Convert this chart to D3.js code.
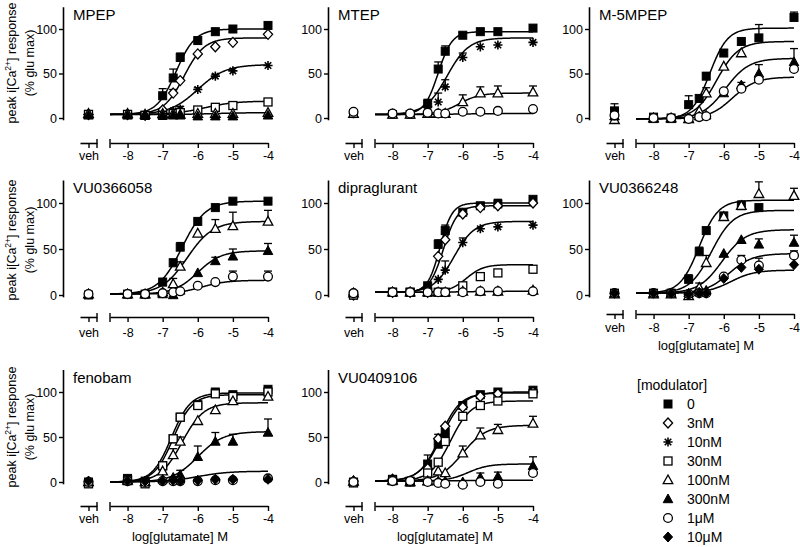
<!DOCTYPE html>
<html><head><meta charset="utf-8">
<script src="https://cdn.jsdelivr.net/npm/d3@7"></script>
<style>
body{margin:0;background:#fff}
svg text{font-family:"Liberation Sans",Arial,Helvetica,sans-serif;fill:#000}
</style>
</head><body>
<svg id="c" width="800" height="547"></svg>
<script>
// ---------- DATA ----------
const conc = [-8, -7.5, -7, -6.7, -6.5, -6, -5.5, -5, -4];   // log[glutamate] M
const modulators = ["0","3nM","10nM","30nM","100nM","300nM","1\u03BCM","10\u03BCM"];
const panelTitles = ["MPEP","MTEP","M-5MPEP","VU0366058","dipraglurant","VU0366248","fenobam","VU0409106"];
const yTicks = [0, 50, 100];
const xTicks = [-8, -7, -6, -5, -4];
// each values array: [veh, then one per conc]; fit = [bottom, top, logEC50, hill]

// MPEP
const mpep_0   = [4, 4, 3, 25, 45, 68, 87, 97, 100, 104];
const mpep_0_e = [4, 0, 0, 8, 10, 5, 3, 0, 0, 0];
const mpep_0_f = [4, 100, -6.62, 1.6];
const mpep_3   = [4, 4, 3, 9, 28, 42, 72, 80, 85, 94];
const mpep_3_e = [0, 0, 0, 0, 4, 3, 0, 0, 0, 0];
const mpep_3_f = [4, 90, -6.39, 1.5];
const mpep_10   = [4, 4, 3, 4, 8, 10, 32, 47, 53, 59];
const mpep_10_e = [0, 0, 0, 0, 0, 3, 2, 2, 0, 0];
const mpep_10_f = [4, 60, -6.0, 1.1];
const mpep_30   = [4, 4, 3, 3, 5, 6, 9, 12, 14, 18];
const mpep_30_f = [4, 19, -5.8, 1.0];
const mpep_100  = [5, 5, 4, 5, 5, 4, 5, 5, 5, 6];
const mpep_100_f = [4, 6, -5.5, 1.0];
const mpep_300  = [3, 3, 3, 3, 3, 3, 2, 2, 2, 3];

// MTEP
const mtep_0   = [5, 4, 4, 16, 55, 75, 93, 97, 97, 101];
const mtep_0_e = [3, 0, 0, 0, 8, 6, 3, 0, 0, 0];
const mtep_0_f = [4, 97, -6.7, 2.2];
const mtep_10   = [5, 4, 4, 13, 18, 35, 68, 80, 82, 85];
const mtep_10_e = [0, 0, 0, 8, 10, 8, 5, 0, 0, 0];
const mtep_10_f = [4, 90, -6.45, 1.4];
const mtep_100   = [5, 4, 4, 5, 5, 5, 18, 28, 28, 29];
const mtep_100_e = [0, 0, 0, 0, 0, 0, 8, 7, 8, 7];
const mtep_100_f = [4, 28, -6.1, 1.5];
const mtep_1u   = [7, 5, 5, 6, 5, 5, 7, 7, 8, 10];
const mtep_1u_f = [4, 5, -6, 1];

// M-5MPEP
const m5_0   = [8, 1, 0, 15, 22, 47, 73, 86, 90, 113];
const m5_0_e = [8, 0, 0, 10, 0, 4, 0, 0, 15, 6];
const m5_0_f = [-1, 101, -6.4, 1.7];
const m5_100   = [-2, 0, 0, -1, 8, 28, 58, 73, null, null];
const m5_100_e = [0, 0, 0, 0, 0, 6, 0, 0, 0, 0];
const m5_100_f = [-1, 86, -6.2, 1.4];
const m5_300   = [2, -1, -1, -1, 2, 3, 28, 37, 50, 63];
const m5_300_e = [0, 0, 0, 0, 0, 0, 5, 3, 10, 15];
const m5_300_f = [-1, 67, -5.95, 1.3];
const m5_1u   = [3, 0, 0, -1, 1, 2, 30, 33, 43, 55];
const m5_1u_f = [-1, 46, -5.75, 1.3];

// VU0366058
const v58_0   = [0, 1, 1, 14, 35, 52, 80, 95, 102, 102];
const v58_0_e = [0, 0, 0, 4, 4, 5, 0, 0, 0, 0];
const v58_0_f = [1, 102, -6.45, 1.3];
const v58_100   = [1, 1, 1, 3, 12, 31, 67, 72, 75, 80];
const v58_100_e = [0, 0, 0, 0, 6, 5, 0, 10, 15, 12];
const v58_100_f = [1, 80, -6.3, 1.2];
const v58_300   = [1, 1, 1, 1, 0, 5, 24, 37, 42, 48];
const v58_300_e = [0, 0, 0, 0, 0, 0, 0, 4, 8, 8];
const v58_300_f = [1, 48, -6.0, 1.3];
const v58_1u   = [1, 1, 1, 2, 3, 4, 10, 14, 20, 20];
const v58_1u_e = [0, 0, 0, 0, 0, 0, 0, 0, 6, 6];
const v58_1u_f = [1, 16, -5.9, 1.2];

// dipraglurant
const dip_0   = [0, 3, 3, 10, 55, 70, 90, 97, 99, 104];
const dip_0_e = [4, 0, 0, 0, 5, 6, 0, 0, 5, 0];
const dip_0_f = [3, 100, -6.65, 2.5];
const dip_3   = [0, 3, 3, 3, 42, 60, 88, 95, 97, 100];
const dip_3_f = [3, 97, -6.55, 2.2];
const dip_10   = [0, 3, 3, 3, 17, 27, 57, 72, 74, 76];
const dip_10_e = [0, 0, 0, 0, 0, 10, 5, 0, 0, 0];
const dip_10_f = [3, 80, -6.25, 1.5];
const dip_30   = [0, 3, 3, 3, 3, 3, 10, 20, 24, 28];
const dip_30_f = [3, 33, -5.9, 1.8];
const dip_100  = [2, 3, 3, 3, 3, 3, 4, 4, 4, 5];
const dip_100_f = [3, 4, -6, 1];
const dip_1u   = [2, 3, 3, 3, 3, 3, 3, 4, 4, 4];

// VU0366248
const v48_0   = [2, 2, 2, 17, 47, 70, 86, 97, 95, null];
const v48_0_e = [0, 0, 0, 5, 5, 3, 0, 5, 0, 0];
const v48_0_f = [2, 103, -6.7, 1.6];
const v48_100   = [1, 1, 1, -1, 8, 35, 85, 97, 110, 108];
const v48_100_e = [0, 0, 0, 0, 5, 8, 0, 5, 13, 8];
const v48_100_f = [2, 92, -6.35, 1.4];
const v48_300   = [2, 2, 2, 2, 3, 5, 45, 60, 55, 57];
const v48_300_e = [0, 0, 0, 0, 0, 0, 0, 0, 6, 8];
const v48_300_f = [2, 71, -6.05, 1.3];
const v48_1u   = [2, 2, 2, 1, 2, 2, 20, 38, 32, 43];
const v48_1u_e = [0, 0, 0, 0, 0, 0, 0, 5, 8, 5];
const v48_1u_f = [2, 45, -5.85, 1.3];
const v48_10u   = [2, 2, 2, 1, 2, 2, 18, 30, 28, 33];
const v48_10u_f = [2, 27, -5.8, 1.3];

// fenobam
const fen_0   = [0, 4, 1, 18, 48, 72, 86, 100, 97, 103];
const fen_0_f = [0, 99, -6.75, 1.6];
const fen_30   = [-2, 2, -2, 18, 48, 72, 85, 98, 95, 100];
const fen_30_e = [0, 0, 0, 0, 0, 0, 0, 5, 0, 3];
const fen_30_f = [0, 97, -6.7, 1.6];
const fen_100   = [0, 2, 0, 12, 30, 45, 68, 80, 90, 95];
const fen_100_e = [0, 0, 0, 0, 7, 5, 0, 0, 0, 0];
const fen_100_f = [0, 88, -6.45, 1.4];
const fen_300   = [0, 1, 0, 3, 5, 8, 28, 45, 45, 55];
const fen_300_e = [0, 0, 0, 0, 0, 5, 12, 10, 8, 15];
const fen_300_f = [0, 56, -6.0, 1.2];
const fen_1u   = [0, 1, 0, 1, 1, 1, 1, 2, 2, 4];
const fen_1u_f = [0, 12, -6.0, 1.0];
const fen_10u  = [1, 1, 1, 1, 2, 1, 2, 3, 3, 3];

// VU0409106
const v06_0   = [0, 3, 1, 20, 42, 55, 85, 97, 100, 102];
const v06_0_e = [0, 0, 0, 10, 5, 5, 0, 0, 0, 0];
const v06_0_f = [1, 100, -6.6, 1.4];
const v06_3   = [1, 3, 1, 15, 48, 62, 83, 95, 98, 100];
const v06_3_e = [0, 0, 0, 0, 5, 0, 0, 0, 0, 0];
const v06_3_f = [1, 99, -6.65, 1.5];
const v06_30   = [-1, 2, 0, 10, 22, 45, 73, 85, 90, 98];
const v06_30_f = [1, 90, -6.35, 1.5];
const v06_100   = [1, 2, 0, 1, 12, 10, 32, 52, 58, 65];
const v06_100_e = [0, 0, 0, 0, 0, 0, 8, 8, 6, 8];
const v06_100_f = [1, 63, -6.0, 1.3];
const v06_300   = [0, 1, 0, 1, 1, 1, 0, 5, 6, 18];
const v06_300_e = [0, 0, 0, 0, 0, 0, 0, 5, 5, 10];
const v06_300_f = [1, 20, -5.85, 1.5];
const v06_1u   = [0, 1, 1, 0, -1, -2, -3, 0, -2, 10];
const v06_1u_f = [1, 2, -6, 1];

// ---------- PANELS ----------
const S = (m, v, e, f) => ({m, v, e: e || null, f: f || null});
const panels = [
  {col:0,row:0,series:[S(0,mpep_0,mpep_0_e,mpep_0_f),S(1,mpep_3,mpep_3_e,mpep_3_f),S(2,mpep_10,mpep_10_e,mpep_10_f),S(3,mpep_30,null,mpep_30_f),S(4,mpep_100,null,mpep_100_f),S(5,mpep_300)]},
  {col:1,row:0,series:[S(0,mtep_0,mtep_0_e,mtep_0_f),S(2,mtep_10,mtep_10_e,mtep_10_f),S(4,mtep_100,mtep_100_e,mtep_100_f),S(6,mtep_1u,null,mtep_1u_f)]},
  {col:2,row:0,series:[S(0,m5_0,m5_0_e,m5_0_f),S(4,m5_100,m5_100_e,m5_100_f),S(5,m5_300,m5_300_e,m5_300_f),S(6,m5_1u,null,m5_1u_f)]},
  {col:0,row:1,series:[S(0,v58_0,v58_0_e,v58_0_f),S(4,v58_100,v58_100_e,v58_100_f),S(5,v58_300,v58_300_e,v58_300_f),S(6,v58_1u,v58_1u_e,v58_1u_f)]},
  {col:1,row:1,series:[S(0,dip_0,dip_0_e,dip_0_f),S(1,dip_3,null,dip_3_f),S(2,dip_10,dip_10_e,dip_10_f),S(3,dip_30,null,dip_30_f),S(4,dip_100,null,dip_100_f),S(6,dip_1u)]},
  {col:2,row:1,xlabel:true,series:[S(0,v48_0,v48_0_e,v48_0_f),S(4,v48_100,v48_100_e,v48_100_f),S(5,v48_300,v48_300_e,v48_300_f),S(6,v48_1u,v48_1u_e,v48_1u_f),S(7,v48_10u,null,v48_10u_f)]},
  {col:0,row:2,xlabel:true,series:[S(0,fen_0,null,fen_0_f),S(3,fen_30,fen_30_e,fen_30_f),S(4,fen_100,fen_100_e,fen_100_f),S(5,fen_300,fen_300_e,fen_300_f),S(6,fen_1u,null,fen_1u_f),S(7,fen_10u)]},
  {col:1,row:2,xlabel:true,series:[S(0,v06_0,v06_0_e,v06_0_f),S(1,v06_3,v06_3_e,v06_3_f),S(3,v06_30,null,v06_30_f),S(4,v06_100,v06_100_e,v06_100_f),S(5,v06_300,v06_300_e,v06_300_f),S(6,v06_1u,null,v06_1u_f)]}
];

// ---------- LAYOUT ----------
const colX = [63, 328, 589];
const rowGeo = [
  {y0:118, y100:29, axisY:143, labY:160},
  {y0:295, y100:203, axisY:317, labY:337},
  {y0:482, y100:392, axisY:506, labY:523}
];

const svg = d3.select("#c");
const hill = (f, x) => f[0] + (f[1]-f[0]) / (1 + Math.pow(10, (f[2]-x)*f[3]));

function drawMarker(g, m, cx, cy) {
  const open = {fill:"#fff", stroke:"#000", "stroke-width":1.3};
  const filled = {fill:"#000", stroke:"#000", "stroke-width":1};
  const apply = (sel, a) => { for (const k in a) sel.attr(k, a[k]); return sel; };
  if (m === 0 || m === 3) {
    apply(g.append("rect").attr("x",cx-4).attr("y",cy-4).attr("width",8).attr("height",8), m===0?filled:open);
  } else if (m === 1 || m === 7) {
    apply(g.append("path").attr("d",`M${cx},${cy-5}L${cx+4.6},${cy}L${cx},${cy+5}L${cx-4.6},${cy}Z`), m===7?filled:open);
  } else if (m === 4 || m === 5) {
    apply(g.append("path").attr("d",`M${cx},${cy-5}L${cx+4.8},${cy+3.7}L${cx-4.8},${cy+3.7}Z`), m===5?filled:open);
  } else if (m === 6) {
    apply(g.append("circle").attr("cx",cx).attr("cy",cy).attr("r",4.4), open);
  } else if (m === 2) {
    const r = 4.6, p = [];
    for (let k = 0; k < 4; k++) {
      const a = k*Math.PI/4;
      p.push(`M${cx-r*Math.cos(a)},${cy-r*Math.sin(a)}L${cx+r*Math.cos(a)},${cy+r*Math.sin(a)}`);
    }
    g.append("path").attr("d",p.join("")).attr("stroke","#000").attr("stroke-width",1.6).attr("fill","none");
  }
}

panels.forEach((p, pi) => {
  const yx = colX[p.col], rg = rowGeo[p.row];
  let axisY = rg.axisY, labY = rg.labY;
  if (p.col === 2 && p.row === 1) { axisY = 314; labY = 332; }
  const y = d3.scaleLinear().domain([0,100]).range([rg.y0, rg.y100]);
  const yA = d3.scaleLinear().domain([-2,125]).range([y(-2), y(125)]);
  const x = d3.scaleLinear().domain([-8.5,-4]).range([yx+47, yx+205]);
  const xv = d3.scaleLinear().domain([0,1]).range([yx+17, yx+34]);
  const g = svg.append("g");

  // y axis
  const ya = g.append("g").attr("transform",`translate(${yx},0)`)
    .call(d3.axisLeft(yA).tickValues(yTicks).tickSize(4).tickSizeOuter(0).tickPadding(2));
  ya.select(".domain").attr("stroke-width",1.6);
  ya.selectAll(".tick line").attr("stroke-width",1.4);
  ya.selectAll(".tick text").attr("font-size",12.5).attr("dy","0.34em");

  // x axis main segment
  const xa = g.append("g").attr("transform",`translate(0,${axisY})`)
    .call(d3.axisBottom(x).tickValues(xTicks).tickSize(5).tickSizeOuter(0).tickFormat(d => String(d)).tickPadding(4));
  xa.select(".domain").attr("stroke-width",1.6);
  xa.selectAll(".tick line").attr("stroke-width",1.4);
  xa.selectAll(".tick text").attr("font-size",12.5).attr("y",null).attr("dy",null)
    .attr("transform",`translate(0,${labY-axisY})`);
  g.append("line").attr("x1",x(-8.5)).attr("x2",x(-8.5)).attr("y1",axisY-4).attr("y2",axisY+5)
    .attr("stroke","#000").attr("stroke-width",1.4);

  // veh segment
  const va = g.append("g").attr("transform",`translate(0,${axisY})`)
    .call(d3.axisBottom(xv).tickValues([0.5]).tickSize(5).tickSizeOuter(0).tickFormat(() => "veh"));
  va.select(".domain").attr("stroke-width",1.6);
  va.selectAll(".tick line").attr("stroke-width",1.4);
  va.selectAll(".tick text").attr("font-size",12.5).attr("y",null).attr("dy",null)
    .attr("transform",`translate(0,${labY-axisY})`);
  g.append("line").attr("x1",xv(1)).attr("x2",xv(1)).attr("y1",axisY-4).attr("y2",axisY+5)
    .attr("stroke","#000").attr("stroke-width",1.4);

  // title
  g.append("text").attr("x",yx+10).attr("y",y(125)+13).attr("font-size",15).text(panelTitles[pi]);

  // y label (first column)
  if (p.col === 0) {
    const cy = rg.y0 - 55;
    const t = g.append("text").attr("transform",`translate(16,${cy}) rotate(-90)`)
      .attr("text-anchor","middle").attr("font-size",12.5);
    t.append("tspan").text("peak i[Ca");
    t.append("tspan").attr("font-size",8.5).attr("dy",-5).text("2+");
    t.append("tspan").attr("dy",5).text("] response");
    g.append("text").attr("transform",`translate(34,${cy}) rotate(-90)`)
      .attr("text-anchor","middle").attr("font-size",12.5).text("(% glu max)");
  }
  if (p.xlabel) {
    g.append("text").attr("x",yx+117).attr("y",labY+18).attr("text-anchor","middle")
      .attr("font-size",13).text("log[glutamate] M");
  }

  // curves
  const xs = d3.range(-8.5, -3.995, 0.02);
  const line = d3.line().x(d => x(d[0])).y(d => y(d[1]));
  p.series.forEach(s => {
    if (!s.f) return;
    g.append("path").datum(xs.map(v => [v, hill(s.f, v)])).attr("d",line)
      .attr("fill","none").attr("stroke","#000").attr("stroke-width",1.5);
  });

  // points
  const pos = i => i === 0 ? xv(0.5) : x(conc[i-1]);
  p.series.forEach(s => {
    s.v.forEach((v, i) => {
      if (v == null) return;
      const e = s.e ? s.e[i] : 0;
      if (e > 0) {
        const px = pos(i);
        g.append("line").attr("x1",px).attr("x2",px).attr("y1",y(v)).attr("y2",y(v+e)).attr("stroke","#000").attr("stroke-width",1.3);
        g.append("line").attr("x1",px-4).attr("x2",px+4).attr("y1",y(v+e)).attr("y2",y(v+e)).attr("stroke","#000").attr("stroke-width",1.3);
      }
    });
  });
  p.series.forEach(s => {
    s.v.forEach((v, i) => {
      if (v == null) return;
      drawMarker(g, s.m, pos(i), y(v));
    });
  });
});

// legend
const lg = svg.append("g");
lg.append("text").attr("x",637).attr("y",390).attr("font-size",14).text("[modulator]");
modulators.forEach((m, i) => {
  const cy = 404 + i*19;
  drawMarker(lg, i, 668, cy);
  lg.append("text").attr("x",687).attr("y",cy+5).attr("font-size",14).text(m);
});
</script>
</body></html>
